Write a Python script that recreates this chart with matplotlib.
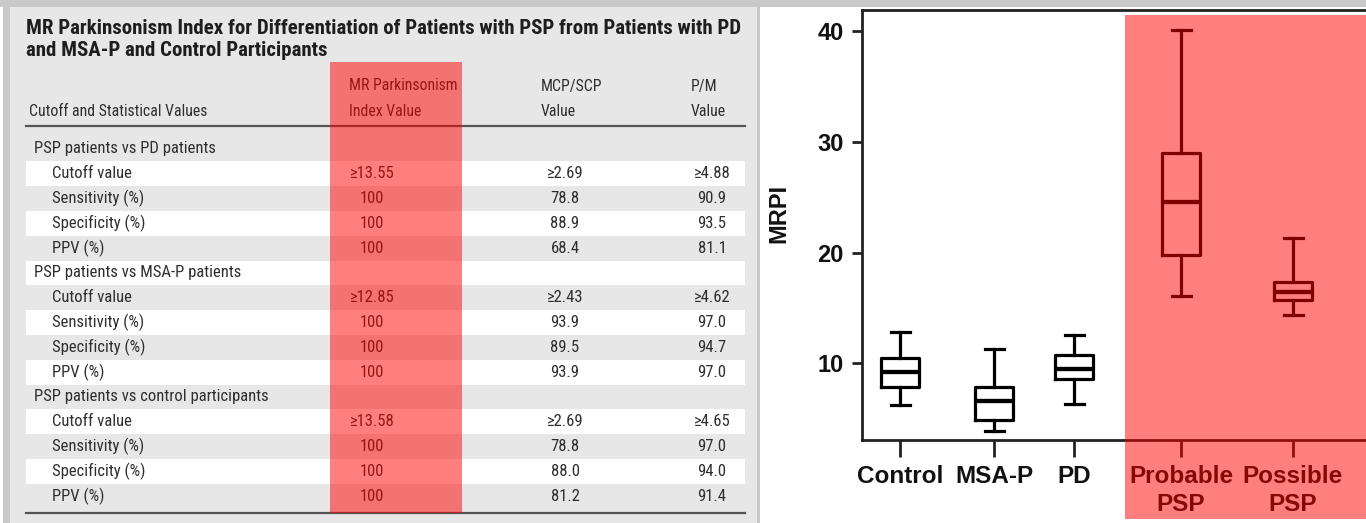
import matplotlib
matplotlib.use("Agg")
import matplotlib.pyplot as plt
from matplotlib.patches import Rectangle
from matplotlib.lines import Line2D

# ---------------- data ----------------
title_lines = ["MR Parkinsonism Index for Differentiation of Patients with PSP from Patients with PD",
               "and MSA-P and Control Participants"]
col_headers = ["Cutoff and Statistical Values", "MR Parkinsonism\nIndex Value", "MCP/SCP\nValue", "P/M\nValue"]
groups = ["PSP patients vs PD patients", "PSP patients vs MSA-P patients", "PSP patients vs control participants"]
row_labels = ["Cutoff value", "Sensitivity (%)", "Specificity (%)", "PPV (%)"]
mrpi_vals = [["\u226513.55", "100", "100", "100"],
             ["\u226512.85", "100", "100", "100"],
             ["\u226513.58", "100", "100", "100"]]
mcp_vals = [["\u22652.69", "78.8", "88.9", "68.4"],
            ["\u22652.43", "93.9", "89.5", "93.9"],
            ["\u22652.69", "78.8", "88.0", "81.2"]]
pm_vals = [["\u22654.88", "90.9", "93.5", "81.1"],
           ["\u22654.62", "97.0", "94.7", "97.0"],
           ["\u22654.65", "97.0", "94.0", "91.4"]]

box_categories = ["Control", "MSA-P", "PD", "Probable\nPSP", "Possible\nPSP"]
box_whislo = [6.2, 3.9, 6.3, 16.1, 14.4]
box_q1 = [7.9, 4.9, 8.6, 19.75, 15.7]
box_med = [9.25, 6.6, 9.5, 24.6, 16.45]
box_q3 = [10.5, 7.9, 10.75, 29.0, 17.3]
box_whishi = [12.8, 11.3, 12.6, 40.1, 21.3]
y_ticks = [10, 20, 30, 40]

# ---------------- layout ----------------
W, H = 1366, 523
fig = plt.figure(figsize=(W / 100, H / 100), dpi=100)
fig.patch.set_facecolor("white")

bg = fig.add_axes([0, 0, 1, 1])
bg.set_xlim(0, W)
bg.set_ylim(H, 0)
bg.axis("off")

narrow = ["Liberation Sans Narrow", "Roboto Condensed", "DejaVu Sans"]
txtcol = "#2e2e2e"

# top grey strip and left panel
bg.add_patch(Rectangle((0, 0), W, 7, facecolor="#c9c9c9", edgecolor="none", zorder=0))
bg.add_patch(Rectangle((3, 0), 760 - 3, H, facecolor="#c9c9c9", edgecolor="none", zorder=0))
bg.add_patch(Rectangle((10, 7), 757 - 10, H - 7, facecolor="#e7e7e7", edgecolor="none", zorder=0.5))

# title
bg.text(26, 28, title_lines[0], fontsize=15, fontweight="bold", family=narrow,
        color="#1e1e1e", va="center", ha="left")
bg.text(26, 50, title_lines[1], fontsize=15, fontweight="bold", family=narrow,
        color="#1e1e1e", va="center", ha="left")

# headers
hfs = 11.3
fs = 12
hdr_x = [29, 349, 541, 691]
bg.text(hdr_x[0], 111, col_headers[0], fontsize=hfs, family=narrow, color=txtcol, va="center")
for j in range(1, 4):
    l1, l2 = col_headers[j].split("\n")
    bg.text(hdr_x[j], 86, l1, fontsize=hfs, family=narrow, color=txtcol, va="center")
    bg.text(hdr_x[j], 111, l2, fontsize=hfs, family=narrow, color=txtcol, va="center")
bg.add_line(Line2D([26, 745], [126, 126], color="#555555", lw=1.6, zorder=2))

# rows
row_y0 = 149
pitch = 24.8
r = 0
for g in range(3):
    for k in range(5):
        yc = row_y0 + r * pitch
        if r % 2 == 1:
            bg.add_patch(Rectangle((26, yc - pitch / 2), 745 - 26, pitch, facecolor="white",
                                   edgecolor="none", zorder=1))
        if k == 0:
            bg.text(34, yc, groups[g], fontsize=fs, family=narrow, color=txtcol, va="center", zorder=3)
        else:
            i = k - 1
            bg.text(52, yc, row_labels[i], fontsize=fs, family=narrow, color=txtcol, va="center", zorder=3)
            bg.text(372, yc, mrpi_vals[g][i], fontsize=fs, family=narrow, color=txtcol, va="center",
                    ha="center", zorder=3)
            bg.text(565, yc, mcp_vals[g][i], fontsize=fs, family=narrow, color=txtcol, va="center",
                    ha="center", zorder=3)
            bg.text(712, yc, pm_vals[g][i], fontsize=fs, family=narrow, color=txtcol, va="center",
                    ha="center", zorder=3)
        r += 1
bg.add_line(Line2D([26, 745], [513, 513], color="#555555", lw=1.6, zorder=2))

# ---------------- box plot ----------------
ax_l, ax_r, ax_t, ax_b = 862, 1366, 10, 440
ax = fig.add_axes([ax_l / W, (H - ax_b) / H, (ax_r - ax_l) / W, (ax_b - ax_t) / H])
ax.set_facecolor("none")
positions = [900, 994, 1074, 1181, 1293]
stats = []
for i in range(len(box_categories)):
    stats.append(dict(whislo=box_whislo[i], q1=box_q1[i], med=box_med[i], q3=box_q3[i],
                      whishi=box_whishi[i], fliers=[]))
lw = 2.3
ax.bxp(stats, positions=positions, widths=38, showfliers=False, capwidths=19,
       boxprops=dict(color="black", lw=lw), whiskerprops=dict(color="black", lw=lw),
       capprops=dict(color="black", lw=lw), medianprops=dict(color="black", lw=lw + 0.8),
       manage_ticks=False)
ax.set_xlim(ax_l, ax_r)
y0 = 10 - (ax_b - 363.3) / 11.08
y1 = 40 + (31 - ax_t) / 11.08
ax.set_ylim(y0, y1)
ax.set_yticks(y_ticks)
ax.set_yticklabels([str(v) for v in y_ticks])
ax.set_xticks(positions)
ax.set_xticklabels(box_categories, linespacing=1.3)
for lab in ax.get_xticklabels():
    lab.set_fontweight("bold")
    lab.set_fontsize(17.5)
    lab.set_family(["Liberation Sans", "DejaVu Sans"])
    lab.set_color("#111111")
for lab in ax.get_yticklabels():
    lab.set_fontweight("bold")
    lab.set_fontsize(17)
    lab.set_family(["Liberation Sans", "DejaVu Sans"])
    lab.set_color("#111111")
ax.tick_params(axis="y", length=7, width=2, pad=6, color="#222222")
ax.tick_params(axis="x", length=12, width=2, pad=6, color="#222222")
for s in ["left", "bottom", "top"]:
    ax.spines[s].set_linewidth(2)
    ax.spines[s].set_color("#222222")
ax.spines["right"].set_visible(False)
ax.set_ylabel("MRPI", fontsize=17, fontweight="bold", family=["Liberation Sans", "DejaVu Sans"],
              color="#111111")
ax.yaxis.set_label_coords((790 - ax_l) / (ax_r - ax_l), (ax_b - 213) / (ax_b - ax_t))

# ---------------- red highlights ----------------
fig.add_artist(Rectangle((330 / W, 1 - 513 / H), (462 - 330) / W, (513 - 62) / H,
                         transform=fig.transFigure, facecolor="red", alpha=0.5,
                         edgecolor="none", zorder=20))
fig.add_artist(Rectangle((1125 / W, 1 - 519 / H), (W - 1125) / W, (519 - 15) / H,
                         transform=fig.transFigure, facecolor="red", alpha=0.5,
                         edgecolor="none", zorder=20))

fig.savefig("out.png", dpi=100, facecolor=fig.get_facecolor())
